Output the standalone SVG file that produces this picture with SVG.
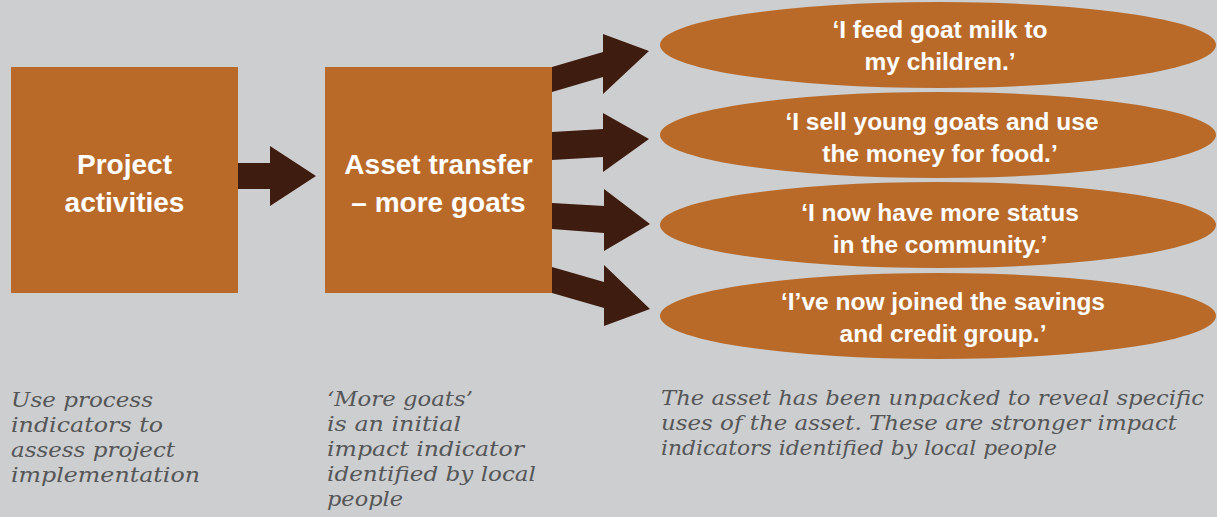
<svg xmlns="http://www.w3.org/2000/svg" width="1217" height="517" viewBox="0 0 1217 517">
<style>
.box{fill:#b96a29}
.ell{fill:#b96a29}
.arr{fill:#3f1c10}
.bt{font-family:"Liberation Sans",Arial,sans-serif;font-weight:bold;font-size:28px;fill:#ffffff;text-anchor:middle}
.et{font-family:"Liberation Sans",Arial,sans-serif;font-weight:bold;font-size:24.5px;fill:#ffffff;text-anchor:middle}
.it{font-family:"DejaVu Serif",Georgia,serif;font-style:italic;font-size:21.3px;fill:#555658}
</style>
<rect width="1217" height="517" fill="#cdcecf"/>
<g id="connectors">
<polygon class="arr" points="238,163 270,163 270,146 316,176 270,206 270,189 238,189"/>
<polygon class="arr" points="552,67 603,52 603,34 649,51 603,94 603,77 552,92"/>
<polygon class="arr" points="552,132 603,129 603,113 649,139 603,172 603,157 552,160"/>
<polygon class="arr" points="552,203 604,206 604,189 650,224 604,251 604,233 552,229"/>
<polygon class="arr" points="552,267 604,282 604,265 650,309 604,326 604,308 552,293"/>
</g>
<g id="node-project">
<rect class="box" x="11" y="67" width="227" height="226"/>
<text class="bt" x="124.5" y="174">Project</text>
<text class="bt" x="124.5" y="212">activities</text>
</g>
<g id="node-asset">
<rect class="box" x="325" y="67" width="227" height="226"/>
<text class="bt" x="438.5" y="174">Asset transfer</text>
<text class="bt" x="438.5" y="212">– more goats</text>
</g>
<g id="node-milk">
<ellipse class="ell" cx="938" cy="45" rx="278" ry="43"/>
<text class="et" x="940" y="38">‘I feed goat milk to</text>
<text class="et" x="940" y="70">my children.’</text>
</g>
<g id="node-sell">
<ellipse class="ell" cx="938" cy="135" rx="278" ry="43"/>
<text class="et" x="942" y="130">‘I sell young goats and use</text>
<text class="et" x="940" y="162">the money for food.’</text>
</g>
<g id="node-status">
<ellipse class="ell" cx="938" cy="225" rx="278" ry="43"/>
<text class="et" x="940" y="221">‘I now have more status</text>
<text class="et" x="940" y="253">in the community.’</text>
</g>
<g id="node-savings">
<ellipse class="ell" cx="938" cy="316" rx="278" ry="43"/>
<text class="et" x="943" y="310">‘I’ve now joined the savings</text>
<text class="et" x="943" y="342">and credit group.’</text>
</g>
<g id="note-process">
<text class="it" x="11" y="407" textLength="142" lengthAdjust="spacingAndGlyphs">Use process</text>
<text class="it" x="11" y="432" textLength="152" lengthAdjust="spacingAndGlyphs">indicators to</text>
<text class="it" x="11" y="457" textLength="164" lengthAdjust="spacingAndGlyphs">assess project</text>
<text class="it" x="11" y="482" textLength="189" lengthAdjust="spacingAndGlyphs">implementation</text>
</g>
<g id="note-initial">
<text class="it" x="327" y="406" textLength="146" lengthAdjust="spacingAndGlyphs">‘More goats’</text>
<text class="it" x="327" y="431" textLength="134" lengthAdjust="spacingAndGlyphs">is an initial</text>
<text class="it" x="327" y="456" textLength="197" lengthAdjust="spacingAndGlyphs">impact indicator</text>
<text class="it" x="327" y="481" textLength="209" lengthAdjust="spacingAndGlyphs">identified by local</text>
<text class="it" x="327" y="506" textLength="76" lengthAdjust="spacingAndGlyphs">people</text>
</g>
<g id="note-unpacked">
<text class="it" x="661" y="405" textLength="543" lengthAdjust="spacingAndGlyphs">The asset has been unpacked to reveal specific</text>
<text class="it" x="661" y="430" textLength="516" lengthAdjust="spacingAndGlyphs">uses of the asset. These are stronger impact</text>
<text class="it" x="661" y="455" textLength="396" lengthAdjust="spacingAndGlyphs">indicators identified by local people</text>
</g>
</svg>
